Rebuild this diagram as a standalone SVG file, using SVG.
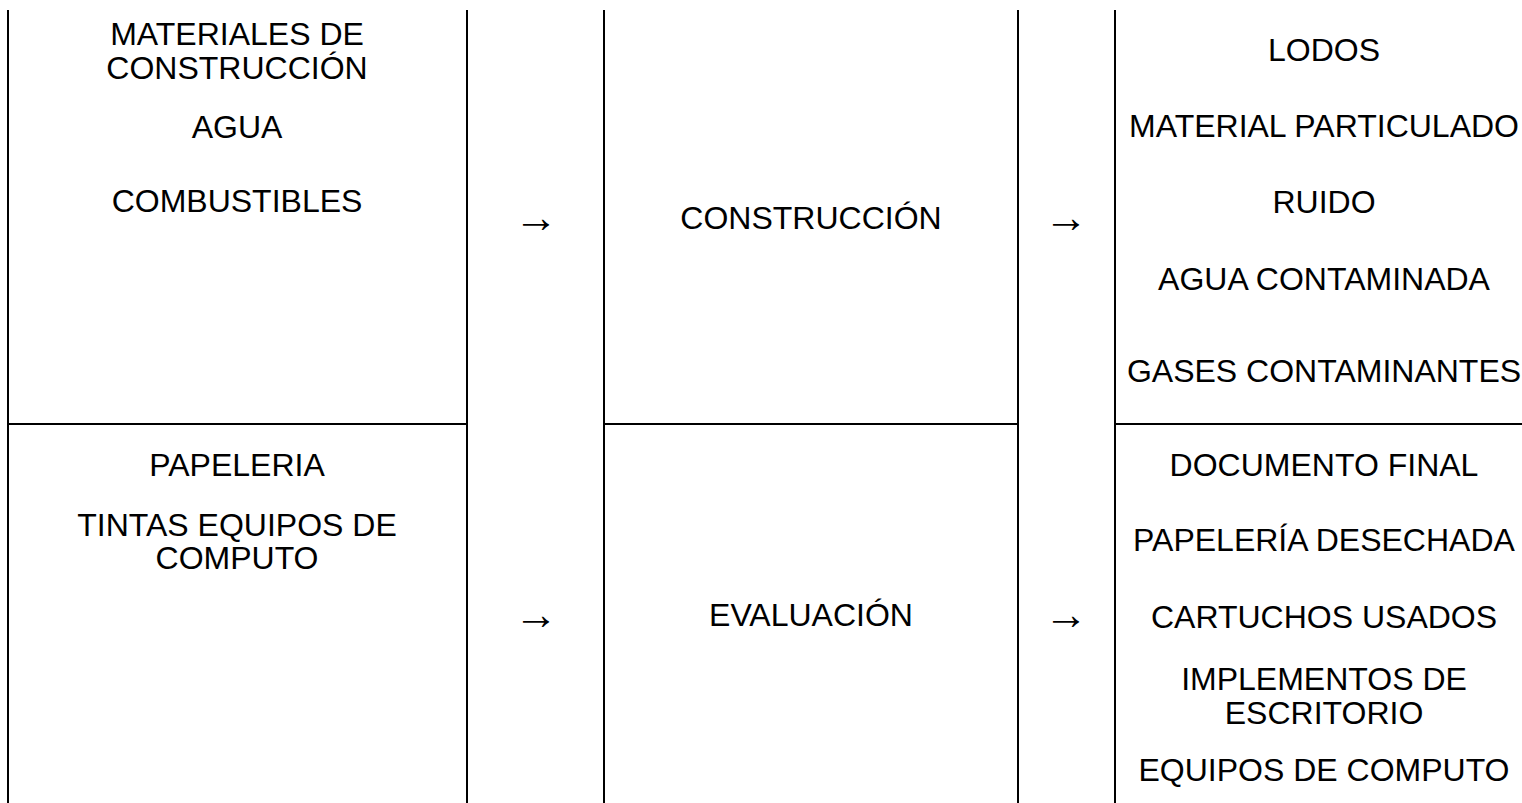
<svg xmlns="http://www.w3.org/2000/svg" width="1522" height="803" viewBox="0 0 1522 803">
<style>
.t{font-family:"Liberation Sans",Arial,sans-serif;font-size:32px;fill:#000;text-anchor:middle}
.a{font-family:"Liberation Sans",Arial,sans-serif;font-size:44px;fill:#000;text-anchor:middle}
.l{stroke:#000;stroke-width:2;fill:none}
</style>
<rect width="1522" height="803" fill="#fff"/>
<g id="grid" class="l">
<line x1="8" y1="10" x2="8" y2="803"/>
<line x1="467" y1="10" x2="467" y2="803"/>
<line x1="604" y1="10" x2="604" y2="803"/>
<line x1="1018" y1="10" x2="1018" y2="803"/>
<line x1="1115" y1="10" x2="1115" y2="803"/>
<line x1="8" y1="424" x2="467" y2="424"/>
<line x1="604" y1="424" x2="1018" y2="424"/>
<line x1="1115" y1="424" x2="1522" y2="424"/>
</g>
<g id="inputs-construccion">
<text class="t" x="237" y="45">MATERIALES DE</text>
<text class="t" x="237" y="79">CONSTRUCCIÓN</text>
<text class="t" x="237" y="138">AGUA</text>
<text class="t" x="237" y="212">COMBUSTIBLES</text>
</g>
<g id="connectors">
<text class="a" x="536" y="232">→</text>
<text class="a" x="1066" y="232">→</text>
<text class="a" x="536" y="629">→</text>
<text class="a" x="1066" y="629">→</text>
</g>
<g id="construccion">
<text class="t" x="811" y="229">CONSTRUCCIÓN</text>
</g>
<g id="outputs-construccion">
<text class="t" x="1324" y="61">LODOS</text>
<text class="t" x="1324" y="137">MATERIAL PARTICULADO</text>
<text class="t" x="1324" y="213">RUIDO</text>
<text class="t" x="1324" y="290">AGUA CONTAMINADA</text>
<text class="t" x="1324" y="382">GASES CONTAMINANTES</text>
</g>
<g id="inputs-evaluacion">
<text class="t" x="237" y="476">PAPELERIA</text>
<text class="t" x="237" y="536">TINTAS EQUIPOS DE</text>
<text class="t" x="237" y="569">COMPUTO</text>
</g>
<g id="evaluacion">
<text class="t" x="811" y="626">EVALUACIÓN</text>
</g>
<g id="outputs-evaluacion">
<text class="t" x="1324" y="476">DOCUMENTO FINAL</text>
<text class="t" x="1324" y="551">PAPELERÍA DESECHADA</text>
<text class="t" x="1324" y="628">CARTUCHOS USADOS</text>
<text class="t" x="1324" y="690">IMPLEMENTOS DE</text>
<text class="t" x="1324" y="724">ESCRITORIO</text>
<text class="t" x="1324" y="781">EQUIPOS DE COMPUTO</text>
</g>
</svg>
